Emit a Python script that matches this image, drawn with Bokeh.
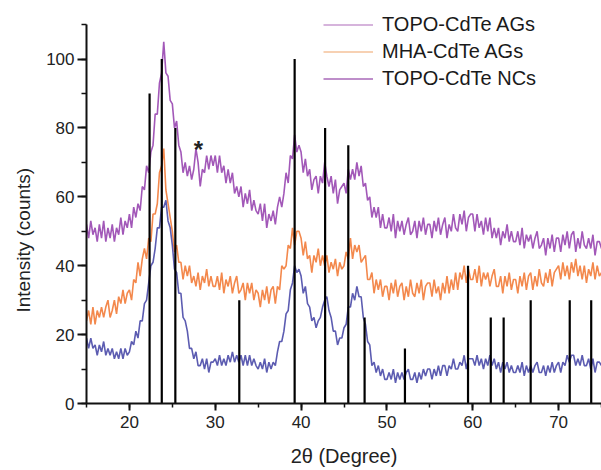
import math
from bokeh.plotting import figure
from bokeh.models import Range1d, SingleIntervalTicker, Legend, LegendItem, Label, Title
from bokeh.core.properties import value
from bokeh.embed import file_html
from bokeh.resources import INLINE

# 2-theta grid: 15.00 .. 75.00 in 0.25 degree steps (one row = 5 degrees)
topo_ags = [
    52, 48, 53, 49, 51, 47, 52, 48, 53, 47, 51, 48, 52, 47, 51, 49, 54, 49, 53, 51,
    55, 51, 57, 54, 58, 56, 63, 62, 69, 67, 73, 75, 84, 84, 93, 96, 105, 96, 95, 88,
    87, 80, 82, 75, 73, 67, 70, 66, 69, 65, 68, 74, 70, 63, 68, 67, 72, 68, 72, 69,
    72, 67, 72, 67, 69, 64, 68, 64, 67, 61, 63, 60, 63, 57, 61, 58, 62, 56, 59, 56,
    55, 58, 53, 58, 51, 55, 53, 56, 52, 57, 60, 57, 61, 67, 64, 72, 71, 78, 73, 75,
    73, 67, 71, 66, 68, 62, 65, 66, 61, 66, 64, 70, 66, 63, 66, 61, 65, 58, 62, 63,
    64, 61, 68, 65, 68, 65, 70, 66, 69, 63, 64, 59, 60, 54, 57, 54, 57, 51, 55, 51,
    51, 54, 50, 55, 48, 53, 50, 53, 49, 52, 54, 49, 50, 53, 48, 53, 50, 54, 49, 52,
    52, 48, 53, 50, 54, 49, 52, 54, 48, 52, 50, 55, 51, 50, 55, 52, 56, 50, 54, 55,
    55, 50, 55, 51, 53, 49, 54, 50, 54, 48, 51, 48, 51, 46, 50, 48, 52, 47, 50, 47,
    47, 50, 46, 51, 45, 49, 47, 49, 45, 48, 50, 45, 46, 48, 43, 48, 45, 49, 44, 48,
    48, 44, 49, 46, 50, 45, 49, 50, 44, 48, 45, 50, 46, 45, 48, 45, 49, 43, 47, 47,
    45]
mha_ags = [
    24, 27, 23, 28, 23, 27, 25, 28, 25, 28, 30, 25, 27, 30, 26, 31, 29, 33, 29, 32,
    33, 30, 36, 35, 41, 37, 42, 45, 42, 48, 47, 55, 55, 58, 67, 69, 74, 62, 58, 54,
    50, 44, 46, 41, 41, 36, 40, 37, 40, 35, 37, 34, 38, 33, 37, 35, 39, 34, 37, 34,
    34, 37, 33, 38, 32, 36, 34, 37, 32, 35, 37, 32, 33, 35, 30, 35, 32, 35, 30, 33,
    32, 28, 33, 30, 34, 29, 33, 34, 29, 34, 33, 40, 39, 40, 46, 45, 51, 46, 50, 50,
    48, 43, 47, 42, 43, 38, 43, 41, 45, 40, 43, 40, 43, 38, 41, 39, 42, 37, 41, 39,
    40, 44, 42, 48, 42, 46, 44, 46, 41, 42, 43, 36, 36, 38, 32, 36, 33, 36, 31, 34,
    34, 30, 35, 32, 36, 31, 34, 35, 30, 34, 31, 36, 32, 31, 35, 32, 36, 30, 34, 35,
    35, 31, 36, 32, 34, 30, 35, 32, 37, 32, 36, 33, 38, 33, 38, 36, 40, 35, 39, 36,
    36, 39, 35, 40, 34, 38, 36, 38, 34, 37, 39, 34, 34, 37, 32, 37, 34, 38, 33, 36,
    36, 32, 37, 34, 38, 33, 37, 38, 33, 37, 34, 39, 35, 34, 38, 35, 39, 34, 38, 39,
    40, 36, 41, 37, 40, 36, 41, 38, 42, 37, 40, 36, 40, 35, 39, 37, 41, 36, 40, 37,
    38]
topo_ncs = [
    19, 16, 19, 16, 17, 14, 17, 15, 18, 14, 16, 14, 16, 13, 15, 13, 16, 13, 16, 14,
    15, 18, 17, 21, 19, 24, 24, 29, 30, 35, 40, 41, 45, 51, 51, 57, 57, 59, 53, 51,
    46, 39, 38, 32, 32, 25, 24, 21, 16, 16, 13, 15, 11, 11, 13, 10, 13, 9, 12, 12,
    13, 11, 14, 11, 13, 11, 14, 12, 15, 12, 14, 12, 14, 11, 14, 11, 14, 11, 13, 11,
    10, 12, 10, 13, 9, 12, 10, 12, 11, 15, 18, 18, 21, 26, 27, 33, 35, 40, 38, 39,
    37, 32, 34, 29, 28, 24, 25, 22, 24, 25, 28, 30, 31, 27, 25, 21, 21, 17, 19, 19,
    22, 23, 28, 28, 32, 30, 34, 31, 31, 25, 23, 18, 17, 11, 12, 9, 11, 8, 10, 7,
    7, 9, 7, 10, 6, 9, 7, 9, 7, 9, 10, 7, 7, 9, 6, 9, 7, 10, 8, 10,
    10, 7, 10, 8, 11, 8, 11, 11, 8, 11, 10, 13, 10, 10, 12, 11, 14, 10, 13, 13,
    13, 11, 14, 11, 13, 10, 13, 11, 14, 11, 13, 10, 12, 9, 12, 10, 12, 9, 11, 9,
    9, 11, 9, 12, 8, 11, 9, 11, 9, 11, 12, 9, 9, 11, 8, 11, 9, 12, 9, 11,
    12, 9, 12, 11, 14, 12, 14, 14, 11, 13, 11, 14, 11, 11, 13, 10, 13, 9, 12, 12,
    11]
two_theta = [15 + 0.25 * i for i in range(len(topo_ags))]

stick_pos = [22.35, 23.77, 25.35, 32.8, 39.25, 42.8, 45.5, 47.4, 52.1,
             59.45, 62.1, 63.6, 66.75, 71.3, 73.8]
stick_h = [90, 100, 80, 30, 100, 80, 75, 25, 16, 40, 25, 25, 30, 30, 30]

series_names = ["TOPO-CdTe AGs", "MHA-CdTe AGs", "TOPO-CdTe NCs"]

FONT = "Liberation Sans"

p = figure(width=601, height=470, x_range=Range1d(15, 75), y_range=Range1d(0, 117),
           output_backend="svg", toolbar_location=None,
           min_border_left=86, min_border_right=0, min_border_top=0, min_border_bottom=67)
p.outline_line_color = None
p.grid.visible = False
p.background_fill_color = "white"
p.border_fill_color = "white"

p.line(two_theta, topo_ags, line_color="#9846b0", line_width=1.6, line_alpha=0.9)
p.line(two_theta, mha_ags, line_color="#f27b38", line_width=1.6, line_alpha=0.9)
p.line(two_theta, topo_ncs, line_color="#4a4aa8", line_width=1.6, line_alpha=0.9)

p.segment(x0=stick_pos, y0=0, x1=stick_pos, y1=stick_h, line_color="black", line_width=2.2)

# axes
p.xaxis.ticker = SingleIntervalTicker(interval=10, num_minor_ticks=2)
p.yaxis.ticker = SingleIntervalTicker(interval=20, num_minor_ticks=2)
p.yaxis.bounds = (0, 110)
for ax in (p.xaxis, p.yaxis):
    ax.axis_line_width = 2
    ax.axis_line_color = "#111111"
    ax.major_tick_line_width = 2
    ax.minor_tick_line_width = 1.5
    ax.major_tick_line_color = "#111111"
    ax.minor_tick_line_color = "#111111"
    ax.major_tick_in = 0
    ax.minor_tick_in = 0
    ax.major_label_text_font = FONT
    ax.major_label_text_font_size = "17px"
    ax.major_label_text_color = "#222222"
p.xaxis.major_tick_out = 7
p.xaxis.minor_tick_out = 4
p.xaxis.major_label_standoff = 5
p.yaxis.major_tick_out = 9
p.yaxis.minor_tick_out = 5
p.yaxis.major_label_standoff = 3

p.xaxis.axis_label = "2θ (Degree)"
p.xaxis.axis_label_text_font = FONT
p.xaxis.axis_label_text_font_size = "20px"
p.xaxis.axis_label_text_font_style = "normal"
p.xaxis.axis_label_text_color = "#222222"
p.xaxis.axis_label_standoff = 14

p.add_layout(Title(text="Intensity (counts)", align="left", offset=91, text_font=FONT,
                   text_font_size="19px", text_font_style="normal", text_color="#222222",
                   standoff=19), "left")

p.add_layout(Label(x=28.05, y=73.6, text="*", text_align="center", text_baseline="alphabetic",
                   text_font=FONT, text_font_size="24px", text_font_style="bold", text_color="#222222"))

legend_colors = ["#c99bd0", "#f5c29a", "#a868b8"]
items = []
for name, c in zip(series_names, legend_colors):
    r = p.line([two_theta[0]], [topo_ags[0]], line_color=c, line_width=1.5)
    items.append(LegendItem(label=value(name), renderers=[r]))
legend = Legend(items=items, location=(237, 311), padding=0, margin=0, spacing=0,
                glyph_width=50, glyph_height=27, label_height=27, label_standoff=9,
                label_text_font=FONT, label_text_font_size="20px", label_text_color="#1a1a1a",
                background_fill_alpha=0, border_line_alpha=0)
p.add_layout(legend)

open("out.html", "w").write(file_html(p, INLINE))
